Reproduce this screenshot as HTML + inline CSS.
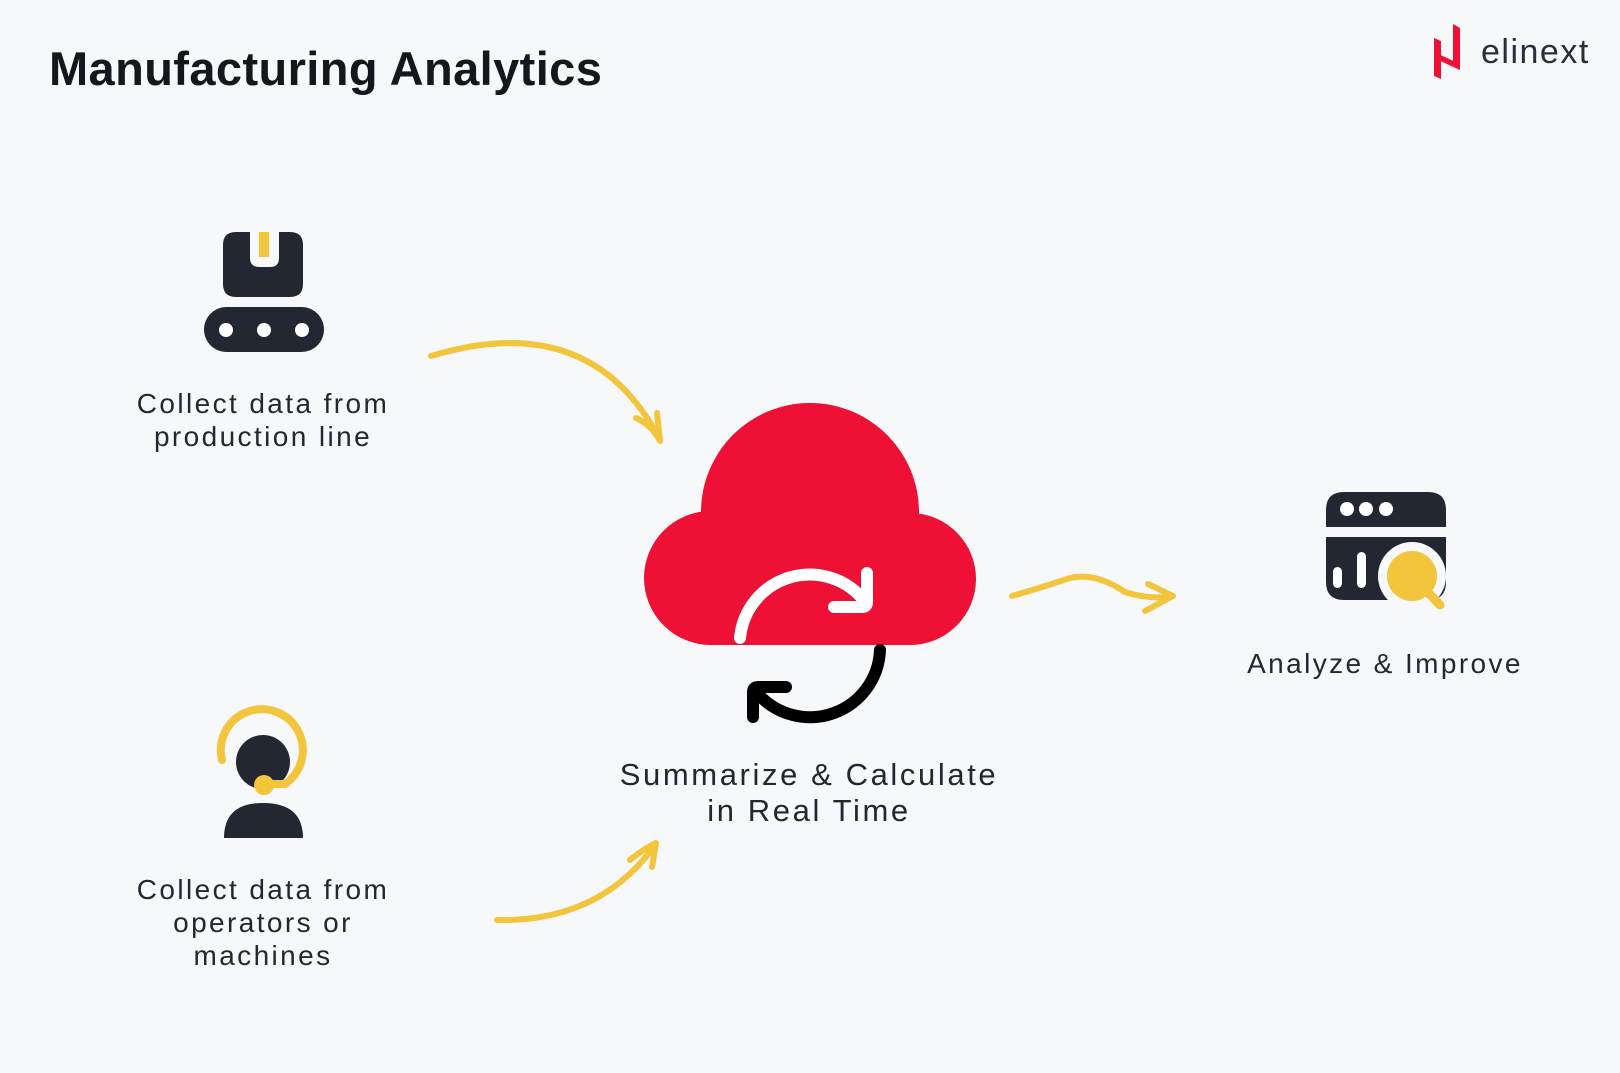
<!DOCTYPE html>
<html><head><meta charset="utf-8"><style>
html,body{margin:0;padding:0;background:#f7f8fa;}
body{width:1620px;height:1073px;position:relative;overflow:hidden;font-family:"Liberation Sans",sans-serif;}
.t{position:absolute;color:#232730;text-align:center;font-size:28px;letter-spacing:2.4px;line-height:33px;}
</style></head><body>
<div style="position:absolute;left:49px;top:41px;font-size:47px;font-weight:bold;color:#15171c;letter-spacing:0.4px;">Manufacturing Analytics</div>
<svg width="1620" height="1073" style="position:absolute;left:0;top:0">
<polygon points="1434,38 1441,41 1441,79 1434,76" fill="#ee1133"/>
<polygon points="1453,24 1460,28 1460,70 1453,66" fill="#ee1133"/>
<polygon points="1434,52 1460,64 1460,70 1434,58" fill="#ee1133"/>
<text x="1481" y="63" font-size="34" fill="#2a2e38" font-family="Liberation Sans,sans-serif" letter-spacing="1.5">elinext</text>
<path d="M236,232 H250 V258 Q250,267 259,267 H270 Q279,267 279,258 V232 H290 Q303,232 303,245 V284 Q303,297 290,297 H236 Q223,297 223,284 V245 Q223,232 236,232Z" fill="#222731"/>
<rect x="259" y="232" width="10" height="25" fill="#f2c53d"/>
<rect x="204" y="307" width="120" height="45" rx="22.5" fill="#222731"/>
<circle cx="226" cy="330" r="7" fill="#fff"/><circle cx="264" cy="330" r="7" fill="#fff"/><circle cx="302" cy="330" r="7" fill="#fff"/>
<circle cx="263" cy="762" r="27" fill="#222731"/>
<path d="M222,760 A41,41 0 1 1 285,784 L264,784" fill="none" stroke="#f2c53d" stroke-width="8" stroke-linecap="round"/>
<circle cx="264" cy="785" r="10" fill="#f2c53d"/>
<path d="M224,838 Q224,803 263,803 Q303,803 303,838 Z" fill="#222731"/>
<g fill="#ee1035">
<circle cx="711" cy="578" r="67"/>
<circle cx="910" cy="579" r="66"/>
<circle cx="810" cy="512" r="109"/>
<rect x="711" y="520" width="199" height="125"/>
</g>
<path d="M740,638 A70,70 0 0 1 862,598" fill="none" stroke="#fff" stroke-width="12" stroke-linecap="round"/>
<path d="M867,573 V602 Q867,607 862,607 H834" fill="none" stroke="#fff" stroke-width="12" stroke-linecap="round" stroke-linejoin="round"/>
<path d="M880,650 A70,70 0 0 1 758,694" fill="none" stroke="#000" stroke-width="12" stroke-linecap="round"/>
<path d="M753,717 V692 Q753,687 758,687 H786" fill="none" stroke="#000" stroke-width="12" stroke-linecap="round" stroke-linejoin="round"/>
<path d="M1344,492 H1428 Q1446,492 1446,510 V527 H1326 V510 Q1326,492 1344,492Z" fill="#222731"/>
<path d="M1326,537 H1446 V582 Q1446,600 1428,600 H1344 Q1326,600 1326,582Z" fill="#222731"/>
<circle cx="1347" cy="509" r="7" fill="#fff"/><circle cx="1366" cy="509" r="7" fill="#fff"/><circle cx="1386" cy="509" r="7" fill="#fff"/>
<rect x="1333" y="567" width="9" height="21" rx="4.5" fill="#fff"/>
<rect x="1357" y="552" width="9" height="36" rx="4.5" fill="#fff"/>
<circle cx="1412" cy="576" r="34" fill="#f7f8fa"/>
<line x1="1420" y1="584" x2="1440" y2="605" stroke="#f2c53d" stroke-width="9" stroke-linecap="round"/>
<circle cx="1412" cy="576" r="25" fill="#f2c53d"/>
<g fill="none" stroke="#f2c53d" stroke-width="6" stroke-linecap="round" stroke-linejoin="round">
<path d="M431,356 Q590,308 659,438"/>
<path d="M636,418 Q652,425 660,441 L657,413"/>
<path d="M497,920 Q600,922 655,845"/>
<path d="M630,860 Q645,848 656,843 L652,867"/>
<path d="M1012,596 Q1040,588 1070,578 Q1095,572 1125,592 Q1150,600 1172,596"/>
<path d="M1148,584 L1173,596 L1145,611"/>
</g>
</svg>
<div class="t" style="left:93px;top:387px;width:340px;">Collect data from<br>production line</div>
<div class="t" style="left:93px;top:873px;width:340px;">Collect data from<br>operators or<br>machines</div>
<div class="t" style="left:549px;top:757px;width:520px;font-size:31px;letter-spacing:2.6px;line-height:36px;">Summarize &amp; Calculate<br>in Real Time</div>
<div class="t" style="left:1185px;top:647px;width:400px;">Analyze &amp; Improve</div>
</body></html>
